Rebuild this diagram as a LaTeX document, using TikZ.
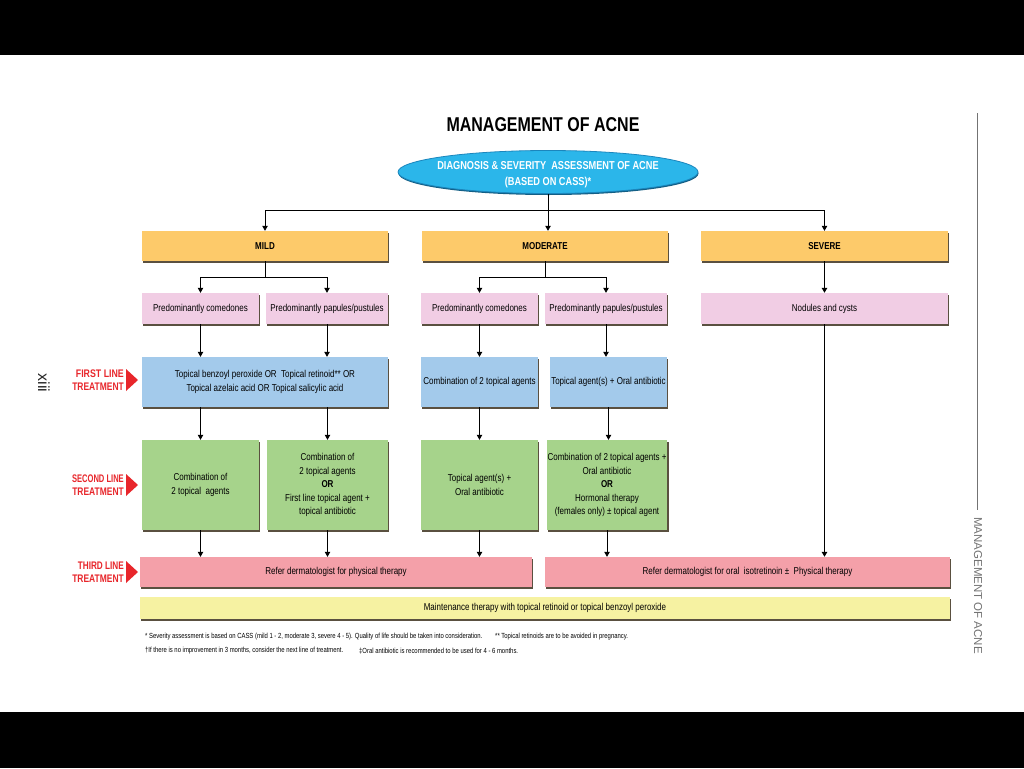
\documentclass[tikz,border=0pt]{standalone}
\usepackage{fontspec}
\setmainfont{Liberation Sans}
\newfontfamily\cond[FakeStretch=0.8]{Liberation Sans}
\usetikzlibrary{shapes.geometric,shadows,arrows.meta}
\definecolor{cOrange}{HTML}{FDCA6A}
\definecolor{cPink}{HTML}{F1CDE4}
\definecolor{cBlue}{HTML}{A3CAEB}
\definecolor{cGreen}{HTML}{A6D38B}
\definecolor{cRose}{HTML}{F4A0A9}
\definecolor{cYellow}{HTML}{F6F2A2}
\definecolor{cCyan}{HTML}{2BB6EA}
\definecolor{cCyanD}{HTML}{1B86BD}
\definecolor{cRed}{HTML}{E8262B}
\definecolor{cShadow}{HTML}{5A5040}
\begin{document}
\begin{tikzpicture}[x=1pt,y=-1pt,
  box/.style={rectangle, inner sep=1pt, align=center,
    font=\cond\fontsize{10}{13.5}\selectfont,
    drop shadow={shadow xshift=1.3pt, shadow yshift=-1.6pt, fill=cShadow, opacity=1}},
  arr/.style={-{Triangle[width=5.5pt,length=5pt]}, line width=0.8pt},
  lbl/.style={font=\cond\bfseries\fontsize{11}{13}\selectfont, text=cRed, align=right, anchor=east, inner sep=0pt},
  foot/.style={font=\cond\fontsize{7.4}{8}\selectfont, anchor=west, inner sep=0pt}
]
\useasboundingbox (0,0) rectangle (1024,768);
\fill[white] (0,0) rectangle (1024,768);
\fill[black] (0,0) rectangle (1024,55);
\fill[black] (0,712) rectangle (1024,768);

% title
\node[font=\cond\bfseries\fontsize{20}{24}\selectfont] (title) at (543,125) {MANAGEMENT OF ACNE};

% ellipse
\node[ellipse, fill=cCyan, draw=cCyanD, line width=0.8pt, minimum width=300, minimum height=43,
  inner sep=0pt,
  drop shadow={shadow xshift=0.5pt, shadow yshift=-1.5pt, fill=cCyanD!70!black, opacity=1}]
  (ell) at (548,172) {};
\node[align=center, text=white, inner sep=0pt, font=\cond\bfseries\fontsize{11.5}{16}\selectfont]
  (elltxt) at (548,174.5) {DIAGNOSIS \& SEVERITY\ \ ASSESSMENT OF ACNE\\(BASED ON CASS)*};

% severity
\node[box, fill=cOrange, minimum width=246, minimum height=30, font=\cond\bfseries\fontsize{10}{12}\selectfont] (mild) at (265,246) {MILD};
\node[box, fill=cOrange, minimum width=246, minimum height=30, font=\cond\bfseries\fontsize{10}{12}\selectfont] (mod) at (545,246) {MODERATE};
\node[box, fill=cOrange, minimum width=247, minimum height=30, font=\cond\bfseries\fontsize{10}{12}\selectfont] (sev) at (824.5,246) {SEVERE};

% sub-types
\node[box, fill=cPink, minimum width=117, minimum height=31] (mc) at (200.5,308.5) {Predominantly comedones};
\node[box, fill=cPink, minimum width=122, minimum height=31] (mp) at (327,308.5) {Predominantly papules/pustules};
\node[box, fill=cPink, minimum width=117, minimum height=31] (oc) at (479.5,308.5) {Predominantly comedones};
\node[box, fill=cPink, minimum width=122, minimum height=31] (op) at (606,308.5) {Predominantly papules/pustules};
\node[box, fill=cPink, minimum width=247, minimum height=31] (nc) at (824.5,308.5) {Nodules and cysts};

% first line
\node[box, fill=cBlue, minimum width=246, minimum height=50] (mb) at (265,382) {Topical benzoyl peroxide OR\ \ Topical retinoid** OR\\Topical azelaic acid OR Topical salicylic acid};
\node[box, fill=cBlue, minimum width=117, minimum height=50] (ob1) at (479.5,382) {Combination of 2 topical agents};
\node[box, fill=cBlue, minimum width=117, minimum height=50] (ob2) at (608.5,382) {Topical agent(s) + Oral antibiotic};

% second line
\node[box, fill=cGreen, minimum width=117, minimum height=90] (mg1) at (200.5,485) {Combination of\\2 topical\ \ agents};
\node[box, fill=cGreen, minimum width=121, minimum height=90] (mg2) at (327.5,485) {Combination of\\2 topical agents\\\textbf{OR}\\First line topical agent +\\topical antibiotic};
\node[box, fill=cGreen, minimum width=117, minimum height=90] (og1) at (479.5,485) {Topical agent(s) +\\Oral antibiotic};
\node[box, fill=cGreen, minimum width=120, minimum height=90] (og2) at (607,485) {Combination of 2 topical agents +\\Oral antibiotic\\\textbf{OR}\\Hormonal therapy\\(females only) ± topical agent};

% third line
\node[box, fill=cRose, minimum width=392, minimum height=30] (t1) at (336,572) {Refer dermatologist for physical therapy};
\node[box, fill=cRose, minimum width=405, minimum height=30] (t2) at (747.5,572) {Refer dermatologist for oral\ \ isotretinoin ±\ \ Physical therapy};

% maintenance
\node[box, fill=cYellow, minimum width=810, minimum height=22] (mt) at (545,608) {Maintenance therapy with topical retinoid or topical benzoyl peroxide};

% connectors
\draw[line width=0.8pt] (ell.south) -- (ell.south |- 0,210) coordinate (j0);
\draw[arr] (j0) -| (mild.north);
\draw[arr] (j0) -| (sev.north);
\draw[arr] (j0) -- (j0 |- mod.north);

\draw[line width=0.8pt] (mild.south) -- ++(0,16) coordinate (j1);
\draw[arr] (j1) -| (mc.north);
\draw[arr] (j1) -| (mp.north);
\draw[line width=0.8pt] (mod.south) -- ++(0,16) coordinate (j2);
\draw[arr] (j2) -| (oc.north);
\draw[arr] (j2) -| (op.north);
\draw[arr, line width=1.6pt] (sev.south) -- (nc.north);

\draw[arr] (mc.south) -- (mc.south |- mb.north);
\draw[arr] (mp.south) -- (mp.south |- mb.north);
\draw[arr] (oc.south) -- (ob1.north);
\draw[arr] (op.south) -- (op.south |- ob2.north);

\draw[arr] (mg1.north |- mb.south) -- (mg1.north);
\draw[arr] (mg2.north |- mb.south) -- (mg2.north);
\draw[arr] (ob1.south) -- (og1.north);
\draw[arr] (ob2.south) -- (ob2.south |- og2.north);

\draw[arr] (mg1.south) -- (mg1.south |- t1.north);
\draw[arr] (mg2.south) -- (mg2.south |- t1.north);
\draw[arr] (og1.south) -- (og1.south |- t1.north);
\draw[arr] (og2.south) -- (og2.south |- t2.north);
\draw[arr, line width=1.6pt] (nc.south) -- (nc.south |- t2.north);

% left labels
\node[lbl] (l1) at (124,380) {FIRST\ LINE\\\scalebox{0.96}[1]{TREATMENT}};
\node[lbl] (l2) at (124,485) {\scalebox{0.86}[1]{SECOND LINE}\\\scalebox{0.96}[1]{TREATMENT}};
\node[lbl] (l3) at (124,572) {\scalebox{0.93}[1]{THIRD LINE}\\\scalebox{0.96}[1]{TREATMENT}};
\foreach \yy in {380,485,572} {
  \fill[cRed] (126,\yy-11) -- (138,\yy) -- (126,\yy+11) -- cycle;
}

% page number and side title
\node[rotate=-90, font=\fontsize{16}{16}\selectfont, text=black!85] (pg) at (44,383) {xiii};
\draw[black!55, line width=0.6pt] (977,113) -- (977,510);
\node[rotate=-90, font=\fontsize{11.5}{12}\selectfont, text=black!55, anchor=west, inner sep=0pt] (side) at (978,517) {MANAGEMENT OF ACNE};

% footnotes
\node[foot] (f1) at (145,637) {* Severity assessment is based on CASS (mild 1 - 2, moderate 3, severe 4 - 5). Quality of life should be taken into consideration.};
\node[foot] (f2) at (495,637) {** Topical retinoids are to be avoided in pregnancy.};
\node[foot] (f3) at (145,651) {†If there is no improvement in 3 months, consider the next line of treatment.};
\node[foot] (f4) at (359,651) {‡Oral antibiotic is recommended to be used for 4 - 6 months.};
\end{tikzpicture}
\end{document}
